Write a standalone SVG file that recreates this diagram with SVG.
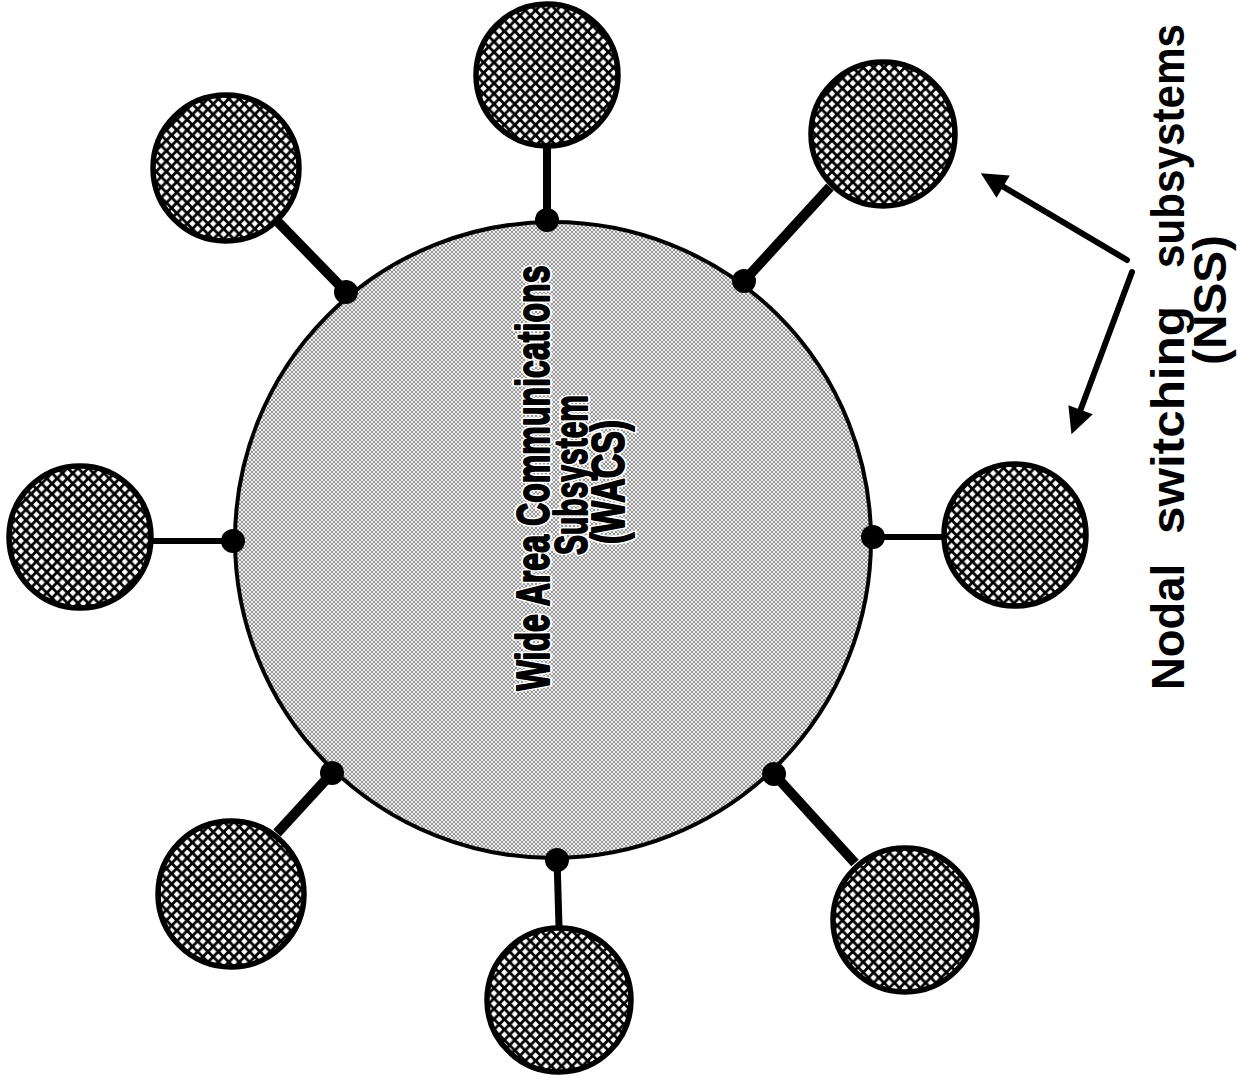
<svg xmlns="http://www.w3.org/2000/svg" width="1237" height="1081" viewBox="0 0 1237 1081">
  <defs>
    <pattern id="hatch" patternUnits="userSpaceOnUse" width="10.4" height="10.4">
      <rect width="10.4" height="10.4" fill="#000"/>
      <path d="M5.2,2 L8.4,5.2 L5.2,8.4 L2,5.2 Z M0,-3.2 L3.2,0 L0,3.2 L-3.2,0 Z M10.4,-3.2 L13.6,0 L10.4,3.2 L7.2,0 Z M0,7.2 L3.2,10.4 L0,13.6 L-3.2,10.4 Z M10.4,7.2 L13.6,10.4 L10.4,13.6 L7.2,10.4 Z" fill="#fff"/>
    </pattern>
    <pattern id="halftone" patternUnits="userSpaceOnUse" width="4" height="4">
      <rect width="4" height="4" fill="#f0f0f0"/>
      <circle cx="0" cy="0" r="0.8" fill="#222"/>
      <circle cx="4" cy="0" r="0.8" fill="#222"/>
      <circle cx="0" cy="4" r="0.8" fill="#222"/>
      <circle cx="4" cy="4" r="0.8" fill="#222"/>
      <circle cx="2" cy="2" r="0.8" fill="#222"/>
    </pattern>
    <marker id="arrow" viewBox="0 0 10 10" refX="5" refY="5" markerUnits="userSpaceOnUse" markerWidth="32" markerHeight="26" orient="auto">
      <path d="M0,0 L10,5 L0,10 Z" fill="#000"/>
    </marker>
  </defs>
  <style>
    .nss { fill: url(#hatch); stroke: #000; stroke-width: 5.5; }
    .wacs { fill: url(#halftone); stroke: #000; stroke-width: 4; }
    .link { stroke: #000; stroke-linecap: butt; fill: none; }
    .dot { fill: #000; }
    .lbl { font-family: "Liberation Sans", Arial, sans-serif; font-weight: bold; fill: #000; }
    .halo { fill: #fff; stroke: #fff; stroke-width: 6; stroke-linejoin: round; }
    .heavy { stroke: #000; stroke-width: 2; stroke-linejoin: round; }
    .arr { stroke: #000; stroke-width: 6; stroke-linecap: round; fill: none; }
  </style>
  <rect width="1237" height="1081" fill="#fff"/>

  <g id="connectors">
    <line class="link" x1="547" y1="147" x2="547" y2="222" stroke-width="8"/>
    <line class="link" x1="830" y1="187" x2="743" y2="282" stroke-width="10"/>
    <line class="link" x1="943" y1="537" x2="871" y2="537" stroke-width="6"/>
    <line class="link" x1="855" y1="863" x2="773" y2="773" stroke-width="10"/>
    <line class="link" x1="559" y1="927" x2="557" y2="858" stroke-width="7"/>
    <line class="link" x1="277" y1="833" x2="333" y2="772" stroke-width="10"/>
    <line class="link" x1="152" y1="541" x2="235" y2="541" stroke-width="6"/>
    <line class="link" x1="278" y1="222" x2="347" y2="293" stroke-width="10"/>
    <line class="arr" x1="1127" y1="260" x2="992" y2="180" marker-end="url(#arrow)"/>
    <line class="arr" x1="1132" y1="272" x2="1076" y2="422" marker-end="url(#arrow)"/>
  </g>

  <g id="wacs">
    <circle class="wacs" cx="553" cy="540" r="318"/>
    <g font-size="47" text-anchor="middle">
      <text class="lbl halo" textLength="425" lengthAdjust="spacingAndGlyphs" transform="translate(549,478) rotate(-90)">Wide Area Communications</text>
      <text class="lbl halo" textLength="160" lengthAdjust="spacingAndGlyphs" transform="translate(587,475) rotate(-90)">Subsystem</text>
      <text class="lbl halo" textLength="124" lengthAdjust="spacingAndGlyphs" transform="translate(624,482) rotate(-90)">(WACS)</text>
      <text class="lbl heavy" textLength="425" lengthAdjust="spacingAndGlyphs" transform="translate(549,478) rotate(-90)">Wide Area Communications</text>
      <text class="lbl heavy" textLength="160" lengthAdjust="spacingAndGlyphs" transform="translate(587,475) rotate(-90)">Subsystem</text>
      <text class="lbl heavy" textLength="124" lengthAdjust="spacingAndGlyphs" transform="translate(624,482) rotate(-90)">(WACS)</text>
    </g>
  </g>

  <g id="junctions">
    <circle class="dot" cx="547" cy="220" r="12"/>
    <circle class="dot" cx="744" cy="281" r="12"/>
    <circle class="dot" cx="873" cy="537" r="12"/>
    <circle class="dot" cx="774" cy="774" r="12"/>
    <circle class="dot" cx="557" cy="860" r="12"/>
    <circle class="dot" cx="332" cy="773" r="12"/>
    <circle class="dot" cx="233" cy="541" r="12"/>
    <circle class="dot" cx="346" cy="292" r="12"/>
  </g>

  <g id="nss-top"><circle class="nss" cx="547" cy="75" r="71"/></g>
  <g id="nss-top-right"><circle class="nss" cx="883" cy="134" r="72"/></g>
  <g id="nss-right"><circle class="nss" cx="1015" cy="535" r="71"/></g>
  <g id="nss-bottom-right"><circle class="nss" cx="905" cy="920" r="72"/></g>
  <g id="nss-bottom"><circle class="nss" cx="559" cy="1000" r="72"/></g>
  <g id="nss-bottom-left"><circle class="nss" cx="231" cy="894" r="73"/></g>
  <g id="nss-left"><circle class="nss" cx="80" cy="537" r="71"/></g>
  <g id="nss-top-left"><circle class="nss" cx="226" cy="168" r="73"/></g>

  <g id="nss-label" font-size="46" text-anchor="middle">
    <text class="lbl" textLength="126" lengthAdjust="spacingAndGlyphs" transform="translate(1184,627) rotate(-90)">Nodal</text>
    <text class="lbl" textLength="228" lengthAdjust="spacingAndGlyphs" transform="translate(1184,420) rotate(-90)">switching</text>
    <text class="lbl" textLength="244" lengthAdjust="spacingAndGlyphs" transform="translate(1184,146) rotate(-90)">subsystems</text>
    <text class="lbl" textLength="130" lengthAdjust="spacingAndGlyphs" transform="translate(1226,300) rotate(-90)">(NSS)</text>
  </g>
</svg>
